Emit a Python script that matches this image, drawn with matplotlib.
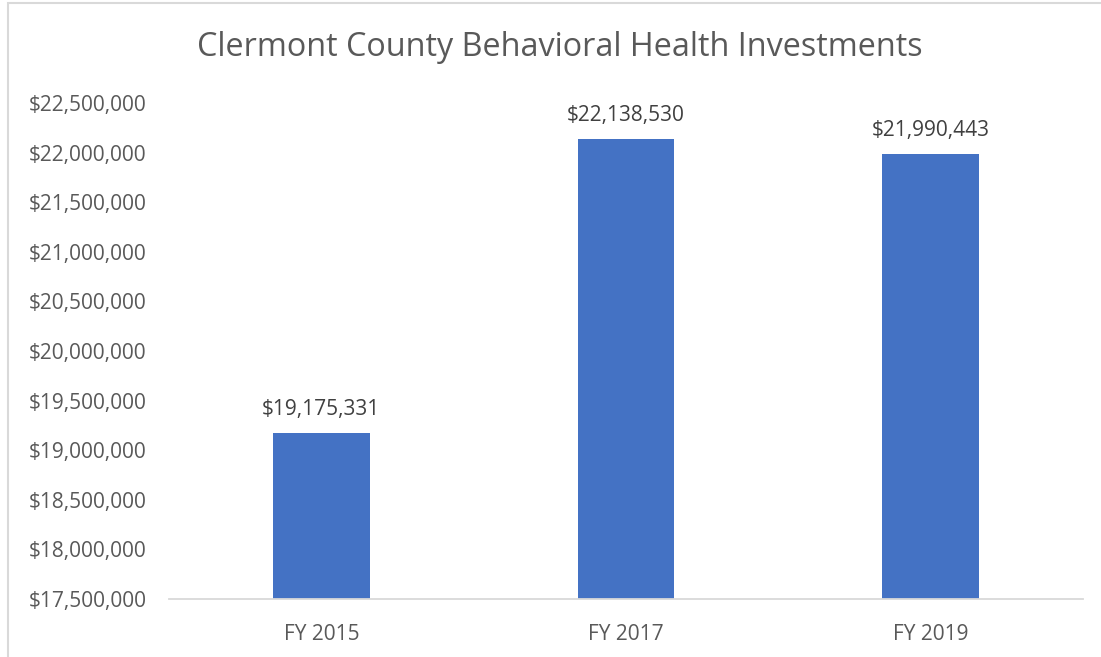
import matplotlib.pyplot as plt
from matplotlib.patches import Rectangle
from matplotlib.ticker import FuncFormatter

years = ["FY 2015", "FY 2017", "FY 2019"]
investments = [19175331, 22138530, 21990443]
y_ticks = [17500000, 18000000, 18500000, 19000000, 19500000, 20000000,
           20500000, 21000000, 21500000, 22000000, 22500000]

plt.rcParams['font.family'] = ['Open Sans', 'DejaVu Sans']

fig = plt.figure(figsize=(11.01, 6.57), dpi=100)
ax = fig.add_axes([169 / 1101, 1 - 599 / 657, 914 / 1101, 496 / 657])

# chart border (only left and top visible in the crop)
fig.patches.append(Rectangle((8 / 1101, -0.1), 1.2, (654 / 657) + 0.1, transform=fig.transFigure,
                             fill=False, edgecolor='#d9d9d9', linewidth=1.5))

x = list(range(len(years)))
bars = ax.bar(x, investments, width=0.318, color='#4472C4', zorder=2)

for xi, v in zip(x, investments):
    ax.annotate(f"${v:,.0f}", (xi, v), xytext=(0, 9), textcoords='offset points',
                ha='center', va='bottom', fontsize=15, color='#404040')

ax.set_xlim(-0.5, 2.5)
ax.set_ylim(17500000, 22500000)
ax.set_yticks(y_ticks)
ax.yaxis.set_major_formatter(FuncFormatter(lambda v, p: f"${v:,.0f}"))
ax.set_xticks(x)
ax.set_xticklabels(years)

for s in ['top', 'right', 'left']:
    ax.spines[s].set_visible(False)
ax.spines['bottom'].set_color('#d9d9d9')
ax.spines['bottom'].set_linewidth(1.3)

ax.tick_params(axis='y', length=0, pad=16, labelsize=15, labelcolor='#595959')
ax.tick_params(axis='x', length=0, pad=18, labelsize=15, labelcolor='#595959')

fig.text(560 / 1101, 1 - 48 / 657, "Clermont County Behavioral Health Investments",
         ha='center', va='center', fontsize=23.3, color='#595959')

fig.savefig("out.png", dpi=100)
